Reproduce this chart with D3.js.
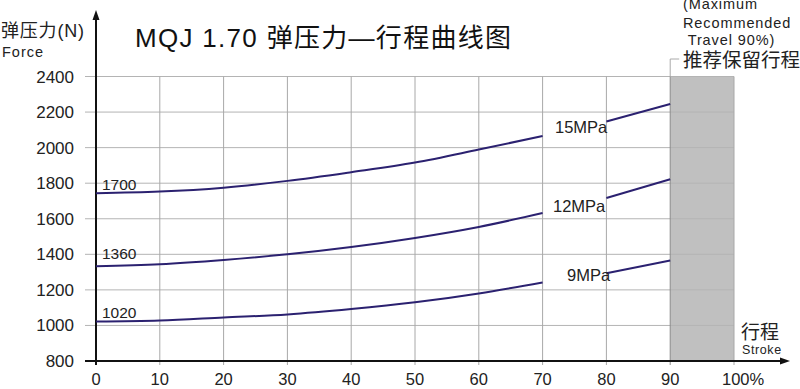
<!DOCTYPE html>
<html>
<head>
<meta charset="utf-8">
<script src="https://cdn.jsdelivr.net/npm/d3@7"></script>
<style>
  body { margin: 0; background: #fff; }
  svg { display: block; font-family: "Liberation Sans", Arial, "Noto Sans CJK SC", sans-serif; }
</style>
</head>
<body>
<svg id="chart" width="800" height="389"></svg>
<script>
const svg = d3.select("#chart");

// stroke positions (%) and force values (N)
const strokeA = [0, 10, 20, 30, 40, 50, 60, 70];
const strokeB = [80, 90];
const series = [
    { name: "15MPa", start: "1700", a: [1744, 1753, 1775, 1813, 1862, 1916, 1989, 2065], b: [2147, 2245] },
    { name: "12MPa", start: "1360", a: [1333, 1344, 1368, 1400, 1441, 1492, 1554, 1632], b: [1717, 1822] },
    { name: "9MPa",  start: "1020", a: [1022, 1028, 1045, 1062, 1092, 1130, 1180, 1242], b: [1294, 1365] }
];
const yTicks = [800, 1000, 1200, 1400, 1600, 1800, 2000, 2200, 2400];
const xTicks = [0, 10, 20, 30, 40, 50, 60, 70, 80, 90, 100];
const reserved = [90, 100];

const x = d3.scaleLinear().domain([0, 100]).range([96, 734]);
const y = d3.scaleLinear().domain([800, 2400]).range([361, 76.5]);

// reserved travel zone
svg.append("rect")
    .attr("x", x(reserved[0]))
    .attr("y", y(2400))
    .attr("width", x(reserved[1]) - x(reserved[0]))
    .attr("height", y(800) - y(2400))
    .attr("fill", "#c0c0c0");

// grid
svg.append("g").selectAll("line")
    .data(yTicks.slice(1))
    .join("line")
    .attr("x1", 85).attr("x2", x(100))
    .attr("y1", d => y(d)).attr("y2", d => y(d))
    .attr("stroke", "#b4b4b4").attr("stroke-width", 1);

svg.append("g").selectAll("line")
    .data(xTicks.slice(1))
    .join("line")
    .attr("x1", d => x(d)).attr("x2", d => x(d))
    .attr("y1", y(2400)).attr("y2", y(800) + 4)
    .attr("stroke", d => d === 90 ? "#8c8c8c" : "#a8a8a8").attr("stroke-width", 1);

// axes
svg.append("line")
    .attr("x1", 85).attr("x2", 782)
    .attr("y1", y(800)).attr("y2", y(800))
    .attr("stroke", "#111").attr("stroke-width", 2);
svg.append("path")
    .attr("d", `M790,${y(800)} L780,${y(800) - 3.5} L780,${y(800) + 3.5} Z`)
    .attr("fill", "#111");
svg.append("line")
    .attr("x1", x(0)).attr("x2", x(0))
    .attr("y1", y(800) + 4).attr("y2", 18)
    .attr("stroke", "#111").attr("stroke-width", 2);
svg.append("path")
    .attr("d", `M${x(0)},10 L${x(0) - 3.5},20 L${x(0) + 3.5},20 Z`)
    .attr("fill", "#111");

// tick labels
svg.append("g").selectAll("text")
    .data(yTicks)
    .join("text")
    .attr("x", 74)
    .attr("y", d => y(d) + 6)
    .attr("text-anchor", "end")
    .attr("font-size", 17)
    .attr("fill", "#222")
    .text(d => d);

svg.append("g").selectAll("text")
    .data(xTicks)
    .join("text")
    .attr("x", d => d === 100 ? x(d) - 12 : x(d))
    .attr("y", 385)
    .attr("text-anchor", d => d === 100 ? "start" : "middle")
    .attr("font-size", 16.5)
    .attr("fill", "#222")
    .text(d => d === 100 ? "100%" : d);

// curves
const line = d3.line()
    .x(d => x(d[0]))
    .y(d => y(d[1]))
    .curve(d3.curveMonotoneX);

series.forEach(s => {
    [[strokeA, s.a], [strokeB, s.b]].forEach(([xs, vs]) => {
        svg.append("path")
            .attr("d", line(xs.map((v, i) => [v, vs[i]])))
            .attr("fill", "none")
            .attr("stroke", "#2b2170")
            .attr("stroke-width", 2);
    });
});

// curve labels
const startLabelY = [190, 259, 318];
svg.append("g").selectAll("text")
    .data(series)
    .join("text")
    .attr("x", 102)
    .attr("y", (d, i) => startLabelY[i])
    .attr("font-size", 15.5)
    .attr("fill", "#222")
    .text(d => d.start);

const nameLabelPos = [[555, 133], [553, 212], [567, 281]];
svg.append("g").selectAll("text")
    .data(series)
    .join("text")
    .attr("x", (d, i) => nameLabelPos[i][0])
    .attr("y", (d, i) => nameLabelPos[i][1])
    .attr("font-size", 16.5)
    .attr("fill", "#222")
    .text(d => d.name);

// titles
svg.append("text")
    .attr("x", 135).attr("y", 47)
    .attr("font-size", 26)
    .attr("letter-spacing", 1.3)
    .attr("fill", "#111")
    .text("MQJ 1.70 弹压力—行程曲线图");

svg.append("text")
    .attr("x", 1).attr("y", 37)
    .attr("font-size", 18)
    .attr("letter-spacing", 0.8)
    .attr("fill", "#222")
    .text("弹压力(N)");
svg.append("text")
    .attr("x", 2).attr("y", 57)
    .attr("font-size", 14.5)
    .attr("letter-spacing", 1)
    .attr("fill", "#222")
    .text("Force");

svg.append("text")
    .attr("x", 741).attr("y", 339)
    .attr("font-size", 19)
    .attr("fill", "#222")
    .text("行程");
svg.append("text")
    .attr("x", 742).attr("y", 354)
    .attr("font-size", 12.5)
    .attr("letter-spacing", 0.6)
    .attr("fill", "#222")
    .text("Stroke");

// reserved travel note
svg.append("path")
    .attr("d", `M${x(90)},${y(2400)} L${x(90)},59 L${x(90) + 9},59`)
    .attr("fill", "none")
    .attr("stroke", "#aaa");
svg.append("text")
    .attr("x", 683).attr("y", 67)
    .attr("font-size", 19.5)
    .attr("fill", "#222")
    .text("推荐保留行程");
const note = ["(Maximum", "Recommended", " Travel 90%)"];
const noteY = [9, 28, 45];
svg.append("g").selectAll("text")
    .data(note)
    .join("text")
    .attr("x", 683)
    .attr("y", (d, i) => noteY[i])
    .attr("font-size", 14.5)
    .attr("letter-spacing", 0.9)
    .attr("fill", "#222")
    .attr("xml:space", "preserve")
    .text(d => d);
</script>
</body>
</html>
